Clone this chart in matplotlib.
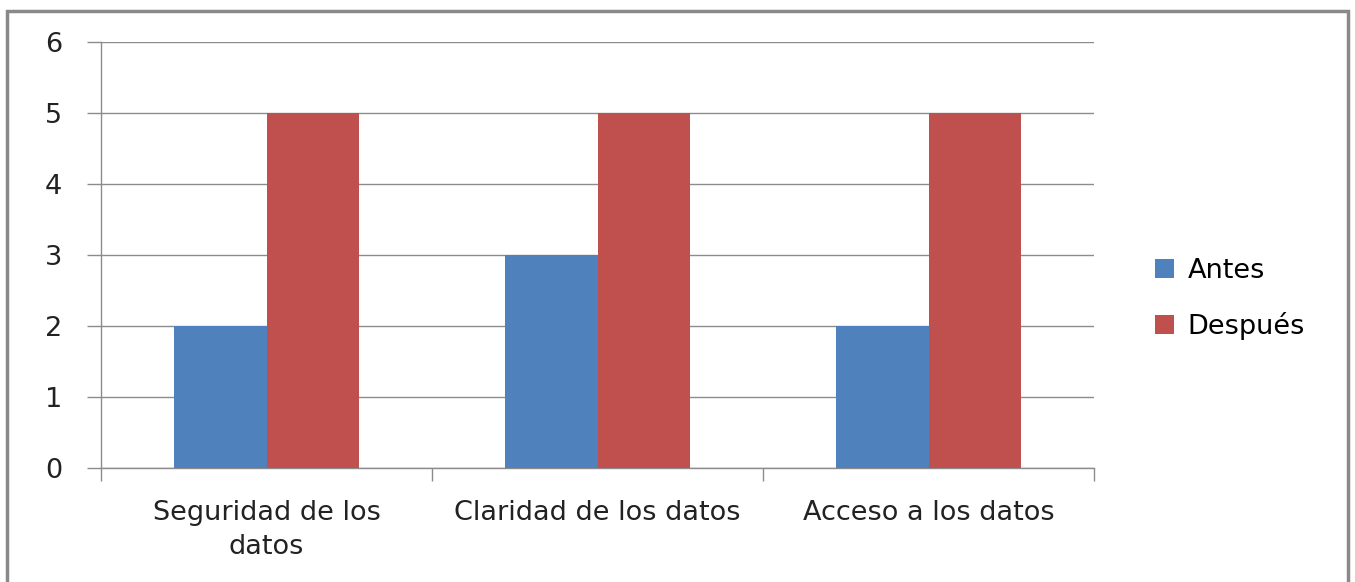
import matplotlib.pyplot as plt
import numpy as np
from matplotlib.patches import Rectangle

categories = ["Seguridad de los\ndatos", "Claridad de los datos", "Acceso a los datos"]
antes = [2, 3, 2]
despues = [5, 5, 5]
series_names = ["Antes", "Después"]
colors = ["#4F81BD", "#C0504D"]

plt.rcParams['font.family'] = ['DejaVu Sans']

fig = plt.figure(figsize=(13.55, 5.82), dpi=100)
fig.patches.append(Rectangle((7 / 1355, -0.05), (1348 - 7) / 1355, (582 - 11) / 582 + 0.05,
                             transform=fig.transFigure, fill=False,
                             edgecolor="#898989", linewidth=2.5, zorder=0))

ax = fig.add_axes([101 / 1355, 1 - 468 / 582, (1094 - 101) / 1355, (468 - 42) / 582])

x = np.arange(len(categories))
w = 0.28
ax.bar(x - w / 2, antes, width=w, color=colors[0], label=series_names[0], zorder=3)
ax.bar(x + w / 2, despues, width=w, color=colors[1], label=series_names[1], zorder=3)

ax.set_xlim(-0.5, len(categories) - 0.5)
ax.set_ylim(0, 6)
ax.set_yticks(range(0, 7))
ax.yaxis.grid(True, color="#8c8c8c", linewidth=1, zorder=0)
ax.set_axisbelow(True)

for s in ["top", "right"]:
    ax.spines[s].set_visible(False)
for s in ["left", "bottom"]:
    ax.spines[s].set_color("#8c8c8c")
    ax.spines[s].set_linewidth(1)

fs = 19.5
ax.set_xticks(np.arange(-0.5, len(categories)), minor=False)
ax.set_xticklabels([])
ax.set_xticks(x, minor=True)
ax.set_xticklabels(categories, minor=True, fontsize=fs, color="#222222",
                   linespacing=1.4)
ax.tick_params(axis="x", which="major", length=9, color="#8c8c8c", width=1)
ax.tick_params(axis="x", which="minor", length=0, pad=23)
ax.tick_params(axis="y", length=10, color="#8c8c8c", width=1, labelsize=fs,
               labelcolor="#222222", pad=24)
for lab in ax.get_yticklabels():
    lab.set_horizontalalignment("center")

ax.legend(loc="center left", bbox_to_anchor=(1131 / 1355, 1 - 299 / 582),
          bbox_transform=fig.transFigure,
          frameon=False, fontsize=fs, handlelength=0.68, handleheight=0.68,
          labelspacing=1.05, handletextpad=0.5)

fig.savefig("out.png", dpi=100)
